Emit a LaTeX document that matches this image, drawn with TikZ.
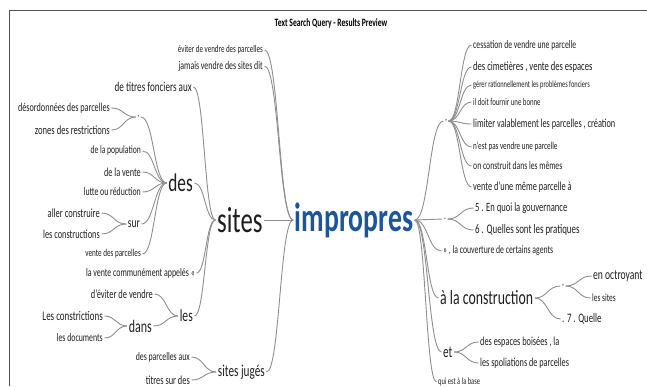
\documentclass[tikz,border=0pt]{standalone}
\usepackage{fontspec}
\setmainfont{Carlito}[FakeStretch=0.68]
\usepackage{tikz}
\usetikzlibrary{positioning, calc}
\definecolor{linkgray}{HTML}{8E8E8E}
\definecolor{rootblue}{HTML}{1B559B}
\definecolor{wordtext}{HTML}{1E1E1E}
\definecolor{framegray}{HTML}{505050}
\tikzstyle{word} = [inner sep=1.5pt, text=wordtext]
\tikzstyle{lw} = [word, anchor=east]
\tikzstyle{rw} = [word, anchor=west]
\tikzstyle{root} = [inner sep=1.5pt, text=rootblue, font=\fontsize{40.8}{40.8}\selectfont\bfseries]
\tikzstyle{title} = [inner sep=0pt, text=black, font=\fontsize{11.2}{11.2}\selectfont\bfseries]
\tikzstyle{frame} = [draw=framegray, line width=1pt]
\tikzset{
  sz/.style={font=\fontsize{#1}{#1}\selectfont},
  link/.style={draw=linkgray, line width=0.9pt,
    to path={let \p1=(\tikztostart), \p2=(\tikztotarget) in
      .. controls ({(\x1+\x2)/2},\y1) and ({(\x1+\x2)/2},\y2) .. (\tikztotarget)}}
}

\begin{document}
\begin{tikzpicture}[x=1pt, y=-1pt, node distance=29pt]
  \useasboundingbox (0,0) rectangle (647,386);
  \draw[frame] (647,10) -- (9,10) -- (9,386);
  \node[title] (title) at (331,23) {Text Search Query - Results Preview};

  \node[root] (impropres) at (354,220) {impropres};
  \node[word, sz=36.4, left=of impropres] (sites) {sites};
  \node[lw, sz=10.3] (ev) at (264.5,50) {éviter de vendre des parcelles};
  \node[lw, sz=11.6] (ja) at (264.5,66) {jamais vendre des sites dit};
  \node[lw, sz=16.5] (sjuges) at (266.5,372) {sites jugés};
  \node[lw, sz=11.5] (dparc) at (191.5,357) {des parcelles aux};
  \node[lw, sz=12.3] (tsur) at (191.5,380) {titres sur des};

  \node[lw, sz=13.4] (titres) at (193.5,87) {de titres fonciers aux};
  \node[lw, sz=25.4] (des) at (194.5,183) {des};
  \node[lw, sz=11.6] (vcomm) at (196.5,273) {la vente communément appelés «};
  \node[lw, sz=17.1] (les) at (194.5,316) {les};

  \node[lw, sz=11] (comma1) at (141,117) {,};
  \node[lw, sz=12] (desord) at (111.5,108) {désordonnées des parcelles};
  \node[lw, sz=12.6] (zones) at (111.5,130) {zones des restrictions};
  \node[lw, sz=11.2] (pop) at (142.5,151) {de la population};
  \node[lw, sz=12.1] (vente) at (142.5,172) {de la vente};
  \node[lw, sz=11.5] (lutte) at (142.5,192) {lutte ou réduction};
  \node[lw, sz=13.9] (sur) at (141.5,224) {sur};
  \node[lw, sz=10.5] (vparc) at (142.5,254) {vente des parcelles};
  \node[lw, sz=12.5] (aller) at (101.5,213) {aller construire};
  \node[lw, sz=12.2] (lcons) at (101.5,234) {les constructions};

  \node[lw, sz=12.4] (deviter) at (154.5,294) {d'éviter de vendre};
  \node[lw, sz=17.6] (dans) at (153.5,326) {dans};
  \node[lw, sz=13.2] (lconstr) at (104.5,316) {Les constrictions};
  \node[lw, sz=11.5] (ldoc) at (104.5,338) {les documents};

  \node[word, sz=11] (comma2) at (446,121) {,};
  \node[rw, sz=11.4] (cess) at (471.5,45) {cessation de vendre une parcelle};
  \node[rw, sz=12.6] (cime) at (471.5,67) {des cimetières , vente des espaces};
  \node[rw, sz=9.4] (gerer) at (471.5,85) {gérer rationnellement les problèmes fonciers};
  \node[rw, sz=10] (ildoit) at (471.5,102) {il doit fournir une bonne};
  \node[rw, sz=12.2] (limiter) at (471.5,124) {limiter valablement les parcelles , création};
  \node[rw, sz=10.5] (nest) at (471.5,147) {n'est pas vendre une parcelle};
  \node[rw, sz=11.3] (oncons) at (471.5,166) {on construit dans les mêmes};
  \node[rw, sz=12.3] (vmeme) at (471.5,187) {vente d'une même parcelle à};

  \node[word, sz=11] (dot) at (445,219) {.};
  \node[rw, sz=12.6] (gouv) at (473.5,208) {5 . En quoi la gouvernance};
  \node[rw, sz=13.1] (prat) at (473.5,230) {6 . Quelles sont les pratiques};
  \node[rw, sz=11.4] (couv) at (441.5,251) {» , la couverture de certains agents};

  \node[rw, sz=20.3] (constr) at (438.5,298) {à la construction};
  \node[word, sz=11] (comma3) at (563,286) {,};
  \node[rw, sz=14.1] (octr) at (591.5,276) {en octroyant};
  \node[rw, sz=10.9] (lsites) at (590.5,298) {les sites};
  \node[rw, sz=12.9] (quelle) at (560.5,319) {. 7 . Quelle};

  \node[rw, sz=16.5] (et) at (441.5,352) {et};
  \node[rw, sz=12.2] (boise) at (478.5,342) {des espaces boisées , la};
  \node[rw, sz=12.1] (spol) at (478.5,363) {les spoliations de parcelles};
  \node[rw, sz=9.5] (base) at (436.5,382) {qui est à la base};

  \draw[link] (impropres.west) to (ev.east);
  \draw[link] (impropres.west) to (ja.east);
  \draw[link] (impropres.west) to (sites.east);
  \draw[link] (impropres.west) to (sjuges.east);
  \draw[link] (sjuges.west) to (dparc.east);
  \draw[link] (sjuges.west) to (tsur.east);
  \draw[link] (sites.west) to (titres.east);
  \draw[link] (sites.west) to (des.east);
  \draw[link] (sites.west) to (vcomm.east);
  \draw[link] (sites.west) to (les.east);
  \draw[link] (des.west) to (comma1.east);
  \draw[link] (des.west) to (pop.east);
  \draw[link] (des.west) to (vente.east);
  \draw[link] (des.west) to (lutte.east);
  \draw[link] (des.west) to (sur.east);
  \draw[link] (des.west) to (vparc.east);
  \draw[link] (comma1.west) to (desord.east);
  \draw[link] (comma1.west) to (zones.east);
  \draw[link] (sur.west) to (aller.east);
  \draw[link] (sur.west) to (lcons.east);
  \draw[link] (les.west) to (deviter.east);
  \draw[link] (les.west) to (dans.east);
  \draw[link] (dans.west) to (lconstr.east);
  \draw[link] (dans.west) to (ldoc.east);

  \draw[link] (impropres.east) to (comma2.west);
  \draw[link] (impropres.east) to (dot.west);
  \draw[link] (impropres.east) to (couv.west);
  \draw[link] (impropres.east) to (constr.west);
  \draw[link] (impropres.east) to (et.west);
  \draw[link] (impropres.east) to (base.west);
  \draw[link] (comma2.east) to (cess.west);
  \draw[link] (comma2.east) to (cime.west);
  \draw[link] (comma2.east) to (gerer.west);
  \draw[link] (comma2.east) to (ildoit.west);
  \draw[link] (comma2.east) to (limiter.west);
  \draw[link] (comma2.east) to (nest.west);
  \draw[link] (comma2.east) to (oncons.west);
  \draw[link] (comma2.east) to (vmeme.west);
  \draw[link] (dot.east) to (gouv.west);
  \draw[link] (dot.east) to (prat.west);
  \draw[link] (constr.east) to (comma3.west);
  \draw[link] (constr.east) to (quelle.west);
  \draw[link] (comma3.east) to (octr.west);
  \draw[link] (comma3.east) to (lsites.west);
  \draw[link] (et.east) to (boise.west);
  \draw[link] (et.east) to (spol.west);
\end{tikzpicture}
\end{document}
